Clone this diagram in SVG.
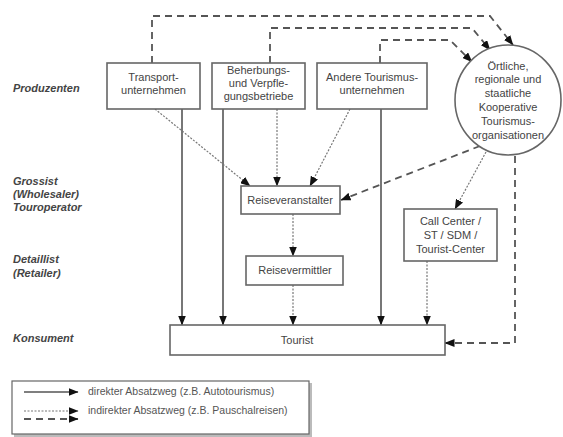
<svg xmlns="http://www.w3.org/2000/svg" width="563" height="437" viewBox="0 0 563 437">
<defs>
<marker id="ah" markerWidth="10" markerHeight="8" refX="9.5" refY="4" orient="auto" markerUnits="userSpaceOnUse">
<path d="M0,0 L10,4 L0,8 Z" fill="#111"/>
</marker>
</defs>
<style>
.box{fill:#fff;stroke:#666;stroke-width:1.6}
.t{font-family:"Liberation Sans",Arial,sans-serif;font-size:11px;fill:#444;text-anchor:middle}
.lab{font-family:"Liberation Sans",Arial,sans-serif;font-size:11px;font-weight:bold;font-style:italic;fill:#444}
.lg{font-family:"Liberation Sans",Arial,sans-serif;font-size:10.5px;fill:#555}
.solid{fill:none;stroke:#555;stroke-width:1.6;marker-end:url(#ah)}
.dot{fill:none;stroke:#777;stroke-width:1.2;stroke-dasharray:2 1.5;marker-end:url(#ah)}
.dash{fill:none;stroke:#555;stroke-width:1.8;stroke-dasharray:7 5;marker-end:url(#ah)}
</style>
<rect width="563" height="437" fill="#fff"/>
<g id="labels">
<text class="lab" x="13" y="92">Produzenten</text>
<text class="lab" x="13" y="185">Grossist</text>
<text class="lab" x="13" y="198">(Wholesaler)</text>
<text class="lab" x="13" y="211">Touroperator</text>
<text class="lab" x="13" y="263">Detaillist</text>
<text class="lab" x="13" y="277">(Retailer)</text>
<text class="lab" x="13" y="342">Konsument</text>
</g>
<g id="connectors">
<path class="solid" d="M182,109 V325"/>
<path class="solid" d="M223,109 V325"/>
<path class="solid" d="M381,109 V325"/>
<path class="dot" d="M155,109 L250,186"/>
<path class="dot" d="M277,109 V186"/>
<path class="dot" d="M350,109 L310,186"/>
<path class="dot" d="M293,214 V256"/>
<path class="dot" d="M293,285 V325"/>
<path class="dot" d="M427,261 V325"/>
<path class="dot" d="M486,152 L455,209"/>
<path class="dash" d="M152,63 V16 H490 L513,45"/>
<path class="dash" d="M270,63 V28 H472 L490,50"/>
<path class="dash" d="M380,63 V40 H450 L472,62"/>
<path class="dash" d="M480,146 L341,200"/>
<path class="dash" d="M515,156 V343 H445"/>
</g>
<g id="transport">
<rect class="box" x="107" y="63" width="93" height="46"/>
<text class="t" x="153.5" y="81">Transport-</text>
<text class="t" x="153.5" y="94">unternehmen</text>
</g>
<g id="beherbungs">
<rect class="box" x="212" y="63" width="93" height="46"/>
<text class="t" x="258.5" y="74">Beherbungs-</text>
<text class="t" x="258.5" y="87">und Verpfle-</text>
<text class="t" x="258.5" y="100">gungsbetriebe</text>
</g>
<g id="andere">
<rect class="box" x="317" y="63" width="110" height="46"/>
<text class="t" x="372" y="81">Andere Tourismus-</text>
<text class="t" x="372" y="94">unternehmen</text>
</g>
<g id="organisationen">
<ellipse class="box" cx="508" cy="100" rx="53" ry="55"/>
<text class="t" x="508" y="70">Örtliche,</text>
<text class="t" x="508" y="83">regionale und</text>
<text class="t" x="508" y="97">staatliche</text>
<text class="t" x="508" y="111">Kooperative</text>
<text class="t" x="508" y="125">Tourismus-</text>
<text class="t" x="508" y="139">organisationen</text>
</g>
<g id="reiseveranstalter">
<rect class="box" x="241" y="186" width="99" height="28"/>
<text class="t" x="290" y="204">Reiseveranstalter</text>
</g>
<g id="reisevermittler">
<rect class="box" x="246" y="256" width="97" height="29"/>
<text class="t" x="295" y="274">Reisevermittler</text>
</g>
<g id="callcenter">
<rect class="box" x="404" y="209" width="93" height="52"/>
<text class="t" x="450.5" y="225">Call Center /</text>
<text class="t" x="450.5" y="239">ST / SDM /</text>
<text class="t" x="450.5" y="253">Tourist-Center</text>
</g>
<g id="tourist">
<rect class="box" x="170" y="325" width="275" height="30"/>
<text class="t" x="297" y="344">Tourist</text>
</g>
<g id="legend">
<rect x="14" y="383" width="298" height="54" fill="#bbb"/>
<rect x="12" y="381" width="297" height="53" fill="#fff" stroke="#666" stroke-width="1.2"/>
<path class="solid" d="M24,392 H78"/>
<text class="lg" x="88" y="395">direkter Absatzweg (z.B. Autotourismus)</text>
<path class="dot" d="M24,411 H78"/>
<path class="dash" d="M24,419 H78"/>
<text class="lg" x="88" y="414">indirekter Absatzweg (z.B. Pauschalreisen)</text>
</g>
</svg>
